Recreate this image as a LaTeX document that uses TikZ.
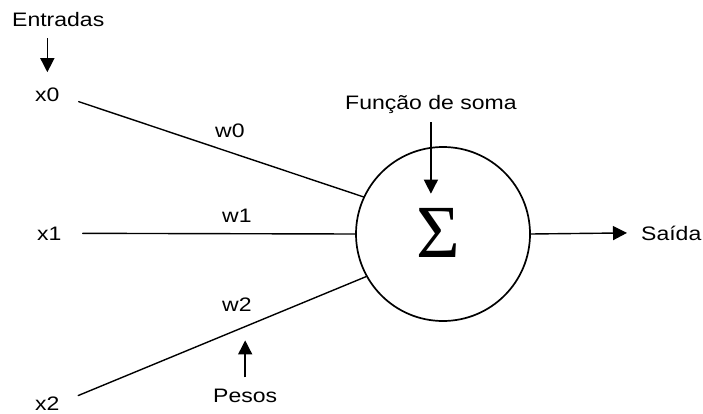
\documentclass[tikz,border=0pt]{standalone}
\usepackage{fontspec}
\setmainfont{Liberation Sans}[FakeStretch=1.18]
\newfontfamily\sigmafont{Liberation Serif}
\usetikzlibrary{arrows.meta}

\begin{document}
\begin{tikzpicture}[
			x=1pt, y=-1pt,
			% Define styles for nodes
			rotulo/.style={inner sep=0pt, anchor=base west, font=\fontsize{19.5}{22}\selectfont},
			liga/.style={draw, line width=1.4pt, line cap=round},
			seta/.style={draw, line width=1.4pt, -{Triangle[length=14pt, width=14pt]}}
		]
		\useasboundingbox (0,0) rectangle (703,414);

		% Inputs
		\node[rotulo] (entradas) at (12,27) {Entradas};
		\node[rotulo] (x0) at (35,102) {x0};
		\node[rotulo] (x1) at (37,240) {x1};
		\node[rotulo] (x2) at (35,410) {x2};

		% Summing neuron
		\node[draw, circle, line width=1.7pt, minimum size=174pt, inner sep=0pt] (soma) at (443,234) {};
		\node[inner sep=0pt, anchor=base, font=\sigmafont\fontsize{75}{75}\selectfont] (sigma) at (438,257) {Σ};
		\node[rotulo] (funcao) at (345,110) {Função de soma};

		% Weights
		\node[rotulo] (w0) at (215,138) {w0};
		\node[rotulo] (w1) at (222,222) {w1};
		\node[rotulo] (w2) at (222,311) {w2};
		\node[rotulo] (pesos) at (213,402) {Pesos};

		% Output
		\node[rotulo] (saida) at (641,240) {Saída};

		% Connections
		\draw[liga, shorten <=20pt] (x0.east) -- (soma.155);
		\draw[liga, shorten <=21pt] (x1.east) -- (soma.west);
		\draw[liga, shorten <=20pt] (x2.east) -- (soma.209);
		\draw[seta] (soma.east) -- ([xshift=-14pt]saida.west);

		% Pointers
		\draw[seta, shorten <=11pt, shorten >=16pt] (entradas.south -| x0.north) -- (x0.north);
		\draw[seta, shorten <=8pt, shorten >=14pt] (funcao.south) -- (funcao.south |- sigma.north);
		\draw[seta, shorten <=11pt] (pesos.north) -- ++(0,-48);
	\end{tikzpicture}
\end{document}
